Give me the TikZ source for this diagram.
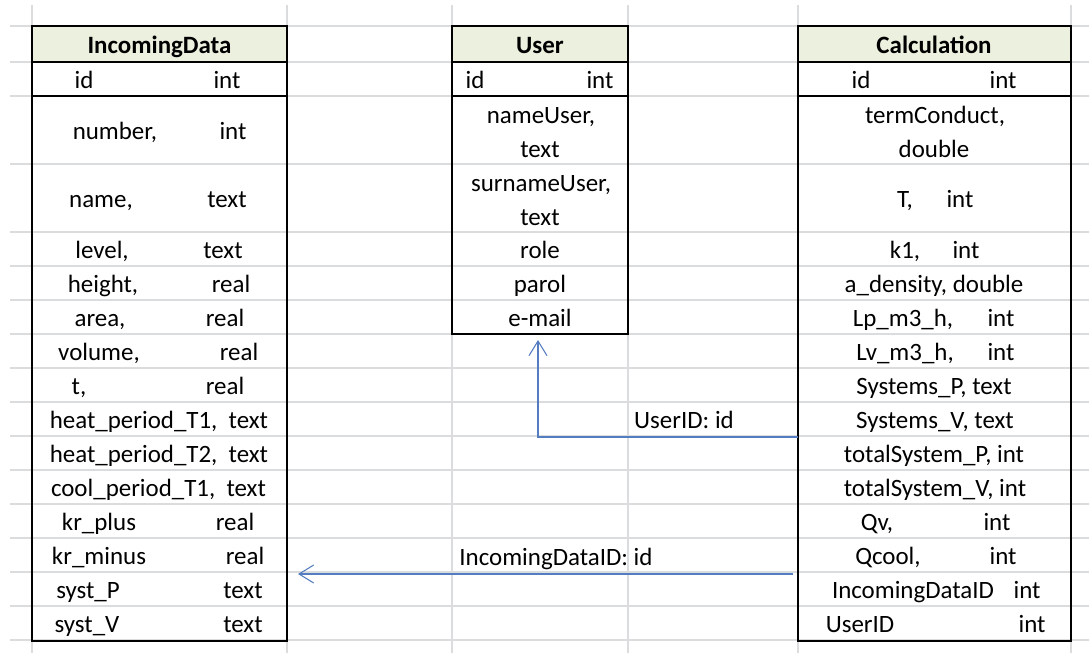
\documentclass[tikz,border=0pt]{standalone}
\usepackage{fontspec}
\setmainfont{Carlito}
\usepackage{tikz}
\usetikzlibrary{arrows.meta}

\definecolor{gridgray}{RGB}{218,220,221}
\definecolor{headfill}{RGB}{235,241,222}
\definecolor{linkblue}{RGB}{84,124,192}

\tikzset{
	cell/.style={anchor=base,inner sep=0pt},
	head/.style={cell,font=\fontsize{18.7}{22}\selectfont\bfseries},
	grid/.style={draw=gridgray,line width=0.9pt},
	frame/.style={draw=black,line width=1.6pt},
	link/.style={draw=linkblue,line width=0.8pt,
		-{Straight Barb[length=11pt,width=13.5pt,line width=0.8pt]}}
}

\begin{document}
\begin{tikzpicture}[x=0.75pt,y=-0.75pt,font=\fontsize{18.7}{22}\selectfont]
	\useasboundingbox (0,0) rectangle (1089,653);
	% sheet grid
	\foreach \x in {32,287,452,628,798,1071}
		\draw[grid] (\x,5) -- (\x,653);
	\foreach \y in {26,62,96,164,232,266,...,640}
		\draw[grid] (10,\y) -- (1089,\y);
	%
	% header cells
	\fill[headfill] (32,26) rectangle (287,62);
	\fill[headfill] (452,26) rectangle (628,62);
	\fill[headfill] (798,26) rectangle (1071,62);
	% table frames
	\draw[frame] (32,26) rectangle (287,641);
	\draw[frame] (452,26) rectangle (628,334);
	\draw[frame] (798,26) rectangle (1071,641);
	\draw[frame] (32,62) -- (287,62);
	\draw[frame] (452,62) -- (628,62);
	\draw[frame] (798,62) -- (1071,62);
	\draw[line width=0.9pt] (32,96) -- (287,96);
	\draw[line width=0.9pt] (452,96) -- (628,96);
	\draw[line width=0.9pt] (798,96) -- (1071,96);
	%
	% IncomingData
	\node[head] (I) at (159.5,53) {IncomingData};
	\node[cell] (I1) at (84,88) {id};
	\node[cell] (I1') at (227,88) {int};
	\node[cell] (I2) at (115,139) {number,};
	\node[cell] (I2') at (233,139) {int};
	\node[cell] (I3) at (101,207) {name,};
	\node[cell] (I3') at (227,207) {text};
	\node[cell] (I4) at (102,258) {level,};
	\node[cell] (I4') at (223,258) {text};
	\node[cell] (I5) at (103,292) {height,};
	\node[cell] (I5') at (231,292) {real};
	\node[cell] (I6) at (100,326) {area,};
	\node[cell] (I6') at (225,326) {real};
	\node[cell] (I7) at (99,360) {volume,};
	\node[cell] (I7') at (239,360) {real};
	\node[cell] (I8) at (79,394) {t,};
	\node[cell] (I8') at (225,394) {real};
	\node[cell] (I9) at (159,428) {heat\_period\_T1,\ \ text};
	\node[cell] (I10) at (159,462) {heat\_period\_T2,\ \ text};
	\node[cell] (I11) at (158.5,496) {cool\_period\_T1,\ \ text};
	\node[cell] (I12) at (99,530) {kr\_plus};
	\node[cell] (I12') at (235,530) {real};
	\node[cell] (I13) at (99,564) {kr\_minus};
	\node[cell] (I13') at (245,564) {real};
	\node[cell] (I14) at (88,598) {syst\_P};
	\node[cell] (I14') at (243,598) {text};
	\node[cell] (I15) at (87,632) {syst\_V};
	\node[cell] (I15') at (243,632) {text};
	%
	% User
	\node[head] (U) at (540,53) {User};
	\node[cell] (U1) at (475,88) {id};
	\node[cell] (U1') at (600,88) {int};
	\node[cell] (U2) at (541,123) {nameUser,};
	\node[cell] (U2') at (540,157) {text};
	\node[cell] (U3) at (541,191) {surnameUser,};
	\node[cell] (U3') at (540,225) {text};
	\node[cell] (U4) at (540,258) {role};
	\node[cell] (U5) at (540,292) {parol};
	\node[cell] (U6) at (540,326) {e-mail};
	%
	% Calculation
	\node[head] (C) at (934,53) {Calculation};
	\node[cell] (C1) at (861,88) {id};
	\node[cell] (C1') at (1003,88) {int};
	\node[cell] (C2) at (935,123) {termConduct,};
	\node[cell] (C2') at (934,157) {double};
	\node[cell] (C3) at (905,207) {T,};
	\node[cell] (C3') at (960,207) {int};
	\node[cell] (C4) at (905,258) {k1,};
	\node[cell] (C4') at (966,258) {int};
	\node[cell] (C5) at (934,292) {a\_density, double};
	\node[cell] (C6) at (903,326) {Lp\_m3\_h,};
	\node[cell] (C6') at (1001,326) {int};
	\node[cell] (C7) at (905,360) {Lv\_m3\_h,};
	\node[cell] (C7') at (1001,360) {int};
	\node[cell] (C8) at (934,394) {Systems\_P, text};
	\node[cell] (C9) at (935,428) {Systems\_V, text};
	\node[cell] (C10) at (934,462) {totalSystem\_P, int};
	\node[cell] (C11) at (935,496) {totalSystem\_V, int};
	\node[cell] (C12) at (877,530) {Qv,};
	\node[cell] (C12') at (997,530) {int};
	\node[cell] (C13) at (888,564) {Qcool,};
	\node[cell] (C13') at (1003,564) {int};
	\node[cell] (C14) at (913,598) {IncomingDataID};
	\node[cell] (C14') at (1027,598) {int};
	\node[cell] (C15) at (860,632) {UserID};
	\node[cell] (C15') at (1032,632) {int};
	%
	% foreign keys
	\coordinate (userFrom) at (798,437);
	\coordinate (userTo) at (538,340);
	\coordinate (incFrom) at (793,574);
	\coordinate (incTo) at (298,574);
	\draw[link] (userFrom) -| (userTo);
	\draw[link] (incFrom) -- (incTo);
	\node[cell] (userKey) at (684,428) {UserID: id};
	\node[cell] (incKey) at (556,565) {IncomingDataID: id};
\end{tikzpicture}
\end{document}
